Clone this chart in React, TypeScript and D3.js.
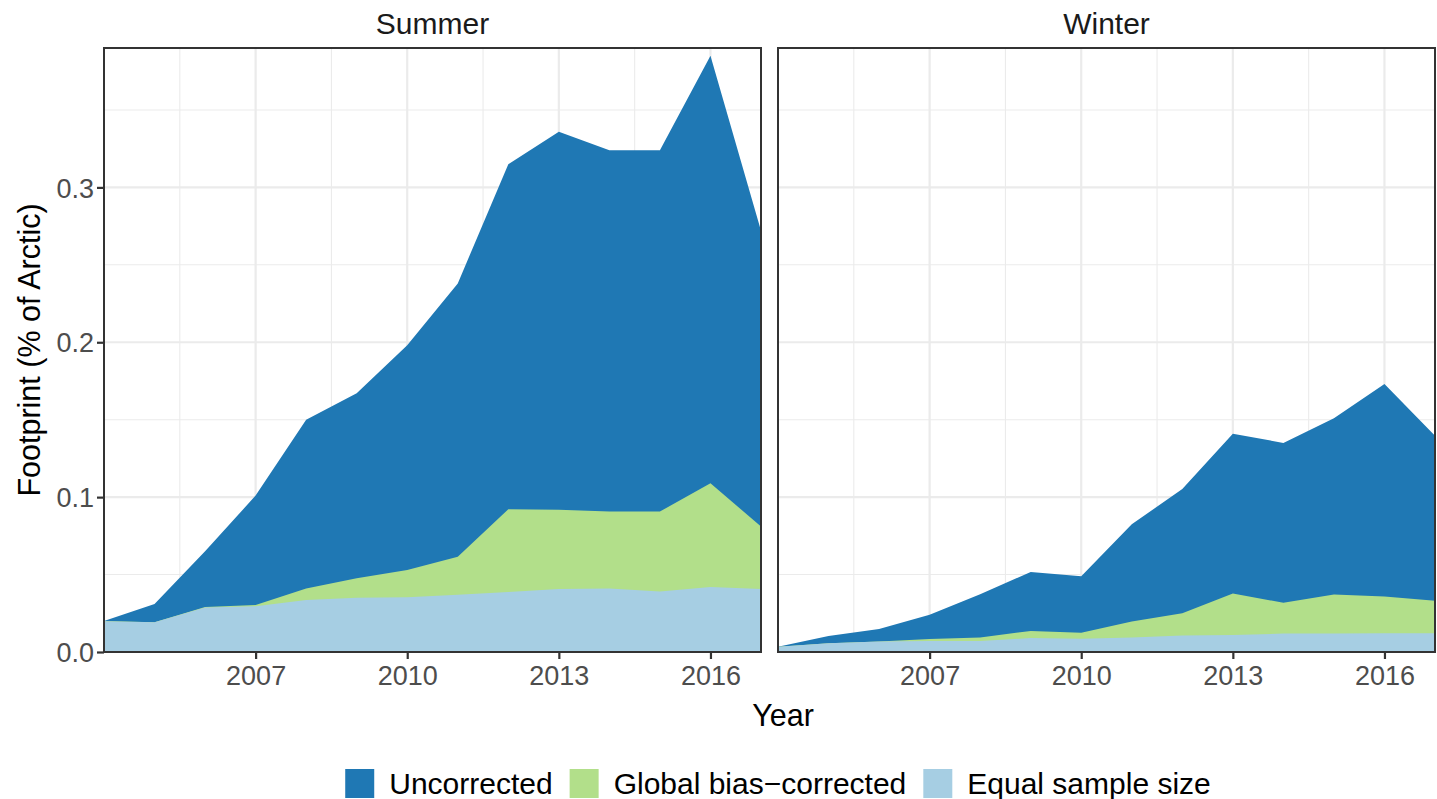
import React from 'react';
import * as d3 from 'd3';

// values (share of Arctic, %)
const years = [2004, 2005, 2006, 2007, 2008, 2009, 2010, 2011, 2012, 2013, 2014, 2015, 2016, 2017];
const seasons = ['Summer', 'Winter'];
const seriesNames = ['Uncorrected', 'Global bias\u2212corrected', 'Equal sample size'];
const seriesColors = ['#1F78B4', '#B2DF8A', '#A6CEE3'];

const summerUncorrected = [0.020, 0.031, 0.065, 0.101, 0.150, 0.167, 0.198, 0.238, 0.315, 0.336, 0.324, 0.324, 0.385, 0.272];
const summerGlobal = [0.020, 0.0192, 0.029, 0.0304, 0.041, 0.0476, 0.053, 0.0615, 0.0922, 0.0918, 0.0907, 0.0907, 0.109, 0.081];
const summerEqual = [0.0198, 0.0192, 0.0287, 0.0295, 0.0336, 0.0351, 0.0353, 0.037, 0.0387, 0.0407, 0.041, 0.039, 0.042, 0.0407];

const winterUncorrected = [0.0034, 0.0103, 0.0149, 0.0241, 0.0373, 0.0517, 0.0489, 0.0825, 0.1052, 0.1409, 0.135, 0.151, 0.173, 0.1397];
const winterGlobal = [0.0034, 0.0056, 0.0067, 0.0084, 0.0093, 0.0136, 0.0125, 0.0197, 0.0251, 0.0377, 0.0318, 0.0372, 0.0359, 0.0331];
const winterEqual = [0.0034, 0.0056, 0.0067, 0.0071, 0.0071, 0.009, 0.0086, 0.0093, 0.0106, 0.011, 0.0119, 0.0119, 0.0121, 0.0121];

const xTicks = [2007, 2010, 2013, 2016];
const xMinor = [2005.5, 2008.5, 2011.5, 2014.5];
const yTicks = [0, 0.1, 0.2, 0.3];
const yMinor = [0.05, 0.15, 0.25, 0.35];

const seasonSeries = {
    Summer: [summerUncorrected, summerGlobal, summerEqual],
    Winter: [winterUncorrected, winterGlobal, winterEqual],
};

const FONT = '"Liberation Sans", Arial, Helvetica, sans-serif';

const App = () => {
    const svgRef = React.useRef<SVGSVGElement>(null);

    const W = 1437, H = 799;
    const panelLefts = [104, 778];
    const panelW = 657;
    const top = 48, bottom = 652;

    React.useEffect(() => {
        const svg = d3.select(svgRef.current);
        svg.selectAll('*').remove();

        const y = d3.scaleLinear().domain([0, 0.39]).range([bottom, top]);

        seasons.forEach((season, i) => {
            const left = panelLefts[i];
            const x = d3.scaleLinear().domain([2004, 2017]).range([left, left + panelW]);
            const g = svg.append('g');

            g.append('rect')
                .attr('x', left).attr('y', top)
                .attr('width', panelW).attr('height', bottom - top)
                .attr('fill', '#fff');

            // grid
            g.selectAll('.hminor').data(yMinor).join('line')
                .attr('x1', left).attr('x2', left + panelW)
                .attr('y1', d => y(d)).attr('y2', d => y(d))
                .attr('stroke', '#EBEBEB').attr('stroke-width', 1.1);
            g.selectAll('.vminor').data(xMinor).join('line')
                .attr('y1', top).attr('y2', bottom)
                .attr('x1', d => x(d)).attr('x2', d => x(d))
                .attr('stroke', '#EBEBEB').attr('stroke-width', 1.1);
            g.selectAll('.hmajor').data(yTicks).join('line')
                .attr('x1', left).attr('x2', left + panelW)
                .attr('y1', d => y(d)).attr('y2', d => y(d))
                .attr('stroke', '#EBEBEB').attr('stroke-width', 2.2);
            g.selectAll('.vmajor').data(xTicks).join('line')
                .attr('y1', top).attr('y2', bottom)
                .attr('x1', d => x(d)).attr('x2', d => x(d))
                .attr('stroke', '#EBEBEB').attr('stroke-width', 2.2);

            // areas, drawn from zero and overlapping
            const area = d3.area<number>()
                .x((_, j) => x(years[j]))
                .y0(y(0))
                .y1(d => y(d));
            seasonSeries[season].forEach((vals, k) => {
                g.append('path')
                    .attr('d', area(vals))
                    .attr('fill', seriesColors[k]);
            });

            g.append('rect')
                .attr('x', left).attr('y', top)
                .attr('width', panelW).attr('height', bottom - top)
                .attr('fill', 'none').attr('stroke', '#333').attr('stroke-width', 2);

            // x axis
            const xAxis = d3.axisBottom(x).tickValues(xTicks).tickFormat(d3.format('d'))
                .tickSize(7).tickPadding(6);
            const xg = svg.append('g').attr('transform', `translate(0,${bottom})`).call(xAxis);
            xg.select('.domain').remove();
            xg.selectAll('line').attr('stroke', '#333').attr('stroke-width', 2.2);
            xg.selectAll('text').attr('font-family', FONT).attr('font-size', 27)
                .attr('fill', '#4D4D4D').attr('dy', '0.73em');

            // strip title
            svg.append('text')
                .attr('x', left + panelW / 2).attr('y', 34)
                .attr('text-anchor', 'middle')
                .attr('font-family', FONT).attr('font-size', 30)
                .attr('fill', '#1A1A1A')
                .text(season);
        });

        // y axis on first panel
        const yAxis = d3.axisLeft(y).tickValues(yTicks).tickFormat(d3.format('.1f'))
            .tickSize(7).tickPadding(3);
        const yg = svg.append('g').attr('transform', `translate(${panelLefts[0]},0)`).call(yAxis);
        yg.select('.domain').remove();
        yg.selectAll('line').attr('stroke', '#333').attr('stroke-width', 2.2);
        yg.selectAll('text').attr('font-family', FONT).attr('font-size', 27)
            .attr('fill', '#4D4D4D').attr('dy', '0.36em');

        // axis titles
        svg.append('text')
            .attr('x', 783).attr('y', 726)
            .attr('text-anchor', 'middle')
            .attr('font-family', FONT).attr('font-size', 30.5).attr('fill', '#000')
            .text('Year');
        svg.append('text')
            .attr('transform', `translate(40,${(top + bottom) / 2}) rotate(-90)`)
            .attr('text-anchor', 'middle')
            .attr('font-family', FONT).attr('font-size', 30.5).attr('fill', '#000')
            .text('Footprint (% of Arctic)');

        // legend, laid out from measured text widths
        const keySize = 29, keyGap = 15, itemGap = 17;
        const legend = svg.append('g');
        const items = seriesNames.map((name, k) => {
            const gi = legend.append('g');
            gi.append('rect').attr('width', keySize).attr('height', keySize)
                .attr('y', 769).attr('fill', seriesColors[k]);
            const t = gi.append('text')
                .attr('x', keySize + keyGap).attr('y', 794)
                .attr('font-family', FONT).attr('font-size', 30).attr('fill', '#000')
                .text(name);
            const w = (t.node() as SVGTextElement).getComputedTextLength();
            return { gi, w: keySize + keyGap + w };
        });
        const total = d3.sum(items, d => d.w) + itemGap * (items.length - 1);
        let cx = 778 - total / 2;
        items.forEach(it => {
            it.gi.attr('transform', `translate(${cx},0)`);
            cx += it.w + itemGap;
        });
    }, []);

    return (
        <svg ref={svgRef} width={W} height={H}
            style={{ position: 'absolute', left: 0, top: 0, background: '#fff' }} />
    );
};

export default App;
